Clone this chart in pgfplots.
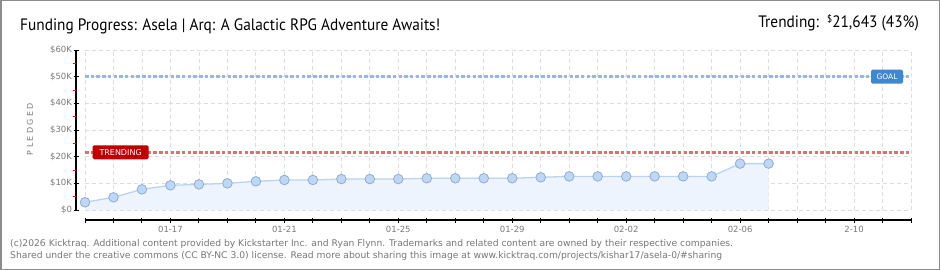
\documentclass[border=0pt]{standalone}
\usepackage{pgfplots}
\pgfplotsset{compat=1.18}
\usepackage{pgfplotstable}
\usepackage{fontspec}
\setmainfont{DejaVu Sans}
\newfontfamily\titlefont[FakeStretch=0.93]{PT Sans}
\newfontfamily\footfont{DejaVu Sans}
\newfontfamily\spacedfont[LetterSpace=30]{DejaVu Sans}
\definecolor{gridgray}{HTML}{DDDDDD}
\definecolor{labgray}{HTML}{7A7A7A}
\definecolor{footgray}{HTML}{777777}
\definecolor{goalblue}{HTML}{3F87D0}
\definecolor{goalline}{HTML}{96B9E3}
\definecolor{trendred}{HTML}{C00000}
\definecolor{trendline}{HTML}{D97272}
\definecolor{dataline}{HTML}{B8D4F0}
\definecolor{datafill}{HTML}{EDF4FD}
\definecolor{markfill}{HTML}{BDD7F5}
\definecolor{markedge}{HTML}{8DADD2}

\pgfplotstableread{
day value
0 2900
1 4750
2 7750
3 9250
4 9600
5 10000
6 10750
7 11250
8 11250
9 11600
10 11600
11 11600
12 11900
13 11900
14 11900
15 11900
16 12250
17 12600
18 12600
19 12600
20 12600
21 12600
22 12600
23 17400
24 17400
}\pledged

\begin{document}
\begin{tikzpicture}
\useasboundingbox (0pt,0pt) rectangle (940pt,-270pt);
\fill[white] (0pt,0pt) rectangle (940pt,-270pt);
\begin{axis}[
  at={(85pt,-210pt)}, anchor=south west,
  scale only axis, width=826pt, height=160pt,
  xmin=0, xmax=29, ymin=0, ymax=60000,
  scaled y ticks=false,
  axis line style={draw=none},
  xtick={0,...,29},
  xticklabels={,,,01-17,,,,01-21,,,,01-25,,,,01-29,,,,02-02,,,,02-06,,,,2-10,,},
  ytick={0,10000,...,60000},
  yticklabels={\$0,\$10K,\$20K,\$30K,\$40K,\$50K,\$60K},
  minor tick num=0,
  xtick pos=bottom, ytick pos=left,
  tick align=center,
  major tick length=5pt,
  xtick style={yshift=-10pt, black, line width=1pt},
  ytick style={xshift=-9pt, black, line width=1pt},
  xmajorgrids, ymajorgrids,
  major grid style={gridgray, dash pattern=on 4pt off 3pt, line width=0.8pt},
  xticklabel style={yshift=-10pt, text=labgray, font=\fontsize{8.5}{9}\selectfont},
  yticklabel style={xshift=-7pt, text=labgray, font=\fontsize{8.5}{9}\selectfont},
  clip=false,
]
\addplot[draw=none, fill=datafill] table[x=day,y=value]{\pledged} \closedcycle;
\addplot[goalline, line width=3pt, dash pattern=on 3.5pt off 2.2pt] coordinates {(0,50000) (29,50000)};
\addplot[trendline, line width=3pt, dash pattern=on 3.5pt off 2.2pt] coordinates {(0,21643) (29,21643)};
\addplot[dataline, line width=1.3pt, mark=*, mark size=4.8pt,
  mark options={fill=markfill, draw=markedge, line width=0.8pt}] table[x=day,y=value]{\pledged};
\node[fill=goalblue, text=white, rounded corners=1.5pt, minimum width=32pt, minimum height=14pt, inner sep=1pt, font=\fontsize{7.5}{8}\selectfont] at (axis cs:28.16,50000) {GOAL};
\node[fill=trendred, text=white, rounded corners=1.5pt, minimum width=56pt, minimum height=14pt, inner sep=1pt, font=\fontsize{8}{8}\selectfont] at (axis cs:1.25,21643) {TRENDING};
\draw[black, line width=1.3pt] ([yshift=-10pt]rel axis cs:0,0) -- ([yshift=-10pt]rel axis cs:1,0);
\draw[black, line width=1.3pt] ([xshift=-9pt]rel axis cs:0,0) -- ([xshift=-9pt]rel axis cs:0,1);
\pgfplotsinvokeforeach{5000,15000,25000,35000,45000,55000}{
  \draw[red, line width=1pt] ([xshift=-9pt]axis cs:0,#1) -- ([xshift=-12pt]axis cs:0,#1);
}
\end{axis}
\node[anchor=base west, inner sep=0pt] at (20pt,-31pt) {\titlefont\fontsize{16.5}{18}\selectfont Funding Progress: Asela | Arq: A Galactic RPG Adventure Awaits!};
\node[anchor=base east, inner sep=0pt] at (919pt,-27.5pt) {\titlefont\fontsize{16.5}{18}\selectfont Trending:\ \ \raisebox{5pt}{\fontsize{10}{10}\selectfont\$}21,643 (43\%)};
\node[rotate=90, text=labgray, inner sep=0pt] at (30pt,-129pt) {\spacedfont\fontsize{8}{9}\selectfont PLEDGED};
\node[anchor=base west, inner sep=0pt, text=footgray] at (10pt,-246.5pt) {\footfont\fontsize{9.2}{10}\selectfont (c)2026 Kicktraq. Additional content provided by Kickstarter Inc. and Ryan Flynn. Trademarks and related content are owned by their respective companies.};
\node[anchor=base west, inner sep=0pt, text=footgray] at (10pt,-258.5pt) {\footfont\fontsize{9.2}{10}\selectfont Shared under the creative commons (CC BY-NC 3.0) license. Read more about sharing this image at www.kicktraq.com/projects/kishar17/asela-0/\#sharing};
\draw[line width=1.5pt, color=gray!90] (0.75pt,-0.75pt) rectangle (939.25pt,-269.25pt);
\end{tikzpicture}
\end{document}
